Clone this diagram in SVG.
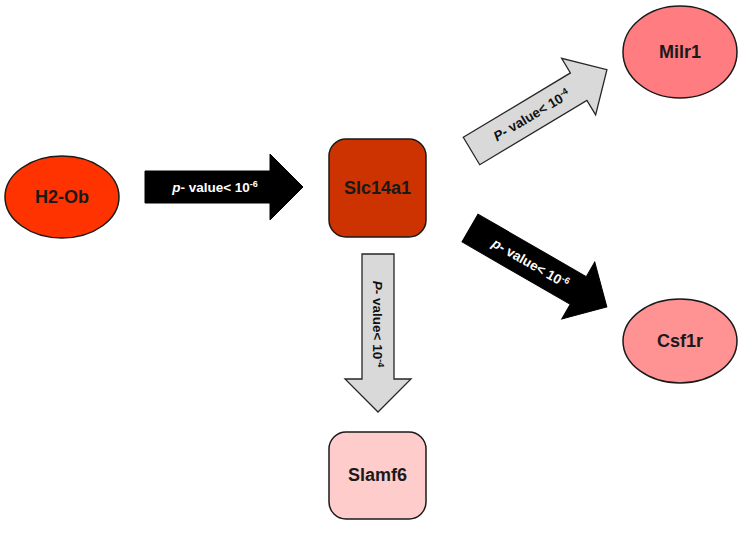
<svg xmlns="http://www.w3.org/2000/svg" width="742" height="533" viewBox="0 0 742 533">
<style>
.node{stroke:#1a1a1a;stroke-width:1.5}
.nt{font-family:"Liberation Sans",Arial,sans-serif;font-weight:bold;font-size:18px;fill:#1a1a1a;text-anchor:middle}
.arrB{fill:#000;stroke:#000;stroke-width:1}
.arrG{fill:#d9d9d9;stroke:#262626;stroke-width:1.3}
.lab{font-family:"Liberation Sans",Arial,sans-serif;font-weight:bold;font-size:13.5px;text-anchor:middle}
.w{fill:#fff}
.k{fill:#111}
</style>
<defs>
<polygon id="arrow" points="0,-16 125,-16 125,-33 158,0 125,33 125,16 0,16"/>
</defs>
<g id="connectors">
<g id="e1" transform="translate(145,187)">
<use href="#arrow" class="arrB"/>
<text class="lab w" x="70" y="5"><tspan font-style="italic">p</tspan>- value&lt; 10<tspan font-size="9" dy="-5">-6</tspan></text>
</g>
<g id="e2" transform="translate(471.5,151) rotate(-31)">
<use href="#arrow" class="arrG"/>
<text class="lab k" x="70" y="5"><tspan font-style="italic">P</tspan>- value&lt; 10<tspan font-size="9" dy="-5">-4</tspan></text>
</g>
<g id="e3" transform="translate(470,228) rotate(30)">
<use href="#arrow" class="arrB"/>
<text class="lab w" x="70" y="5"><tspan font-style="italic">p</tspan>- value&lt; 10<tspan font-size="9" dy="-5">-6</tspan></text>
</g>
<g id="e4" transform="translate(378,254) rotate(90)">
<use href="#arrow" class="arrG"/>
<text class="lab k" x="70" y="5"><tspan font-style="italic">P</tspan>- value&lt; 10<tspan font-size="9" dy="-5">-4</tspan></text>
</g>
</g>
<g id="H2-Ob">
<ellipse class="node" cx="62" cy="197" rx="57" ry="41" fill="#ff3300"/>
<text class="nt" x="62" y="203">H2-Ob</text>
</g>
<g id="Slc14a1">
<rect class="node" x="329" y="139" width="97" height="98" rx="17" fill="#cc3300"/>
<text class="nt" x="377.5" y="194">Slc14a1</text>
</g>
<g id="Milr1">
<ellipse class="node" cx="680" cy="52" rx="57" ry="46" fill="#ff7c80"/>
<text class="nt" x="680" y="58">Milr1</text>
</g>
<g id="Csf1r">
<ellipse class="node" cx="680" cy="341" rx="57" ry="42" fill="#ff9393"/>
<text class="nt" x="680" y="347">Csf1r</text>
</g>
<g id="Slamf6">
<rect class="node" x="329" y="432" width="97" height="87" rx="17" fill="#ffcccc"/>
<text class="nt" x="377.5" y="481">Slamf6</text>
</g>
</svg>
